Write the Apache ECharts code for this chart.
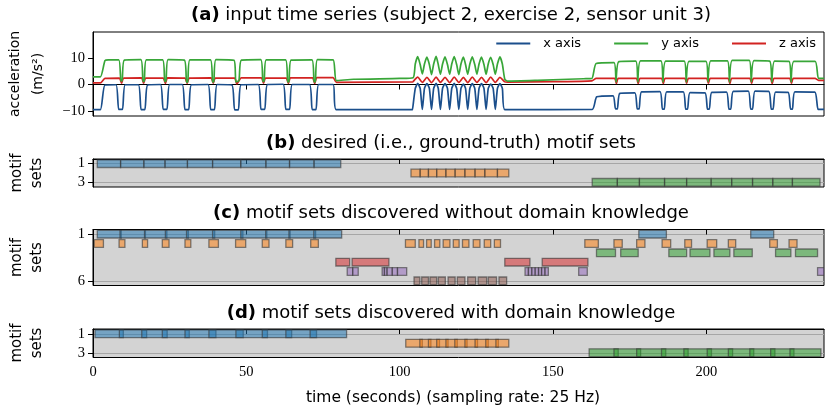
<!DOCTYPE html>
<html><head><meta charset="utf-8">
<script src="https://cdn.jsdelivr.net/npm/echarts@6/dist/echarts.min.js"></script>
<style>html,body{margin:0;padding:0;background:#fff}#c{width:830px;height:415px}</style>
</head><body><div id="c"></div><script>
const T_MAX = 238.4;
const timeTicks = [0, 50, 100, 150, 200];
const accTicks = [-10, 0, 10];
const seriesNames = ['x axis', 'y axis', 'z axis'];
const seriesColors = ['#1b4f8c', '#38a638', '#d22321'];
const motifColors = ['31,119,180', '255,127,14', '44,160,44', '214,39,40', '148,103,189', '140,86,75'];

// acceleration breakpoints: [time (s), value (m/s^2)]
const xAcc = [
[0,-9.6],[2.4,-9.6],[3.9,-0.2],
[7.5,-0.1],[8.4,-9.5],[9.6,-9.5],[10.5,-0.1],
[14.8,-0.1],[15.7,-9.6],[16.9,-9.6],[17.8,-0.2],
[22.0,0],[22.9,-9.5],[24.1,-9.5],[25.0,0],
[29.1,0],[30.0,-9.6],[31.2,-9.6],[32.1,-0.1],
[37.5,0],[38.4,-9.6],[39.6,-9.6],[40.5,0],
[45.3,-0.2],[46.2,-9.7],[47.4,-9.7],[48.3,-0.1],
[53.9,0],[54.8,-9.5],[56.0,-9.5],[56.9,0],
[62.0,0.1],[62.9,-9.5],[64.1,-9.5],[65.0,0],
[70.6,0],[71.5,-9.6],[72.7,-9.6],[73.6,0],
[78.3,0],[79.3,-9.6],[104.2,-9.6],
[104.4,-9.5],[105.1,-1.5],[105.9,0.4],[106.7,-1.5],
[107.4,-9.5],[108.1,-1.5],[108.9,0.3],[109.7,-1.5],
[110.4,-9.5],[111.1,-1.5],[111.9,0.4],[112.6,-1.5],
[113.3,-9.5],[114.0,-1.5],[114.8,0.3],[115.6,-1.5],
[116.3,-9.5],[117.0,-1.5],[117.8,0.4],[118.6,-1.5],
[119.3,-9.5],[120.0,-1.5],[120.8,0.2],[121.5,-1.5],
[122.2,-9.5],[122.9,-1.5],[123.7,0.3],[124.5,-1.5],
[125.2,-9.5],[125.9,-1.5],[126.7,0.3],[127.5,-1.5],
[128.2,-9.5],[128.9,-1.5],[129.7,0.2],[130.5,-1.5],
[131.2,-9.5],[131.9,-1.5],[132.7,0.3],[133.5,-1.5],
[134.3,-9.6],[162.8,-9.5],
[164.3,-4.7],[169.6,-4.3],[170.4,-9.3],[171.0,-9.3],[171.8,-3.4],
[176.7,-3.2],[177.5,-9.3],[178.1,-9.3],[178.9,-2.8],
[184.9,-2.7],[185.7,-9.4],[186.3,-9.4],[187.1,-2.8],
[192.5,-2.8],[193.3,-9.4],[193.9,-9.4],[194.7,-3.1],
[199.6,-3.2],[200.4,-9.4],[201.0,-9.4],[201.8,-3.0],
[206.6,-2.9],[207.4,-9.4],[208.0,-9.4],[208.8,-2.6],
[213.7,-2.5],[214.5,-9.4],[215.1,-9.4],[215.9,-2.5],
[220.4,-2.6],[221.2,-9.4],[221.8,-9.4],[222.6,-2.9],
[226.7,-3.0],[227.5,-9.4],[228.1,-9.4],[228.9,-2.8],
[235.4,-2.9],[236.5,-9.5],[238.4,-9.5]
];
const yAcc = [
[0,2.9],[2.4,2.9],[3.9,9.1],[5.0,9.4],
[8.4,9.4],[9.1,1.4],[9.5,1.4],[10.2,9.3],
[15.6,9.5],[16.3,1.2],[16.7,1.2],[17.4,9.4],
[22.7,9.4],[23.4,1.2],[23.8,1.2],[24.5,9.5],
[29.8,9.3],[30.5,0.9],[30.9,0.9],[31.6,9.4],
[38.3,9.4],[39.0,1.0],[39.4,1.0],[40.1,9.5],
[46.0,9.2],[46.6,1.0],[47.6,1.5],[48.4,9.3],
[54.7,9.5],[55.4,1.2],[55.8,1.2],[56.5,9.4],
[62.8,9.4],[63.5,1.0],[63.9,1.0],[64.6,9.3],
[71.4,9.4],[72.1,1.0],[72.5,1.0],[73.2,9.5],
[78.3,9.4],[79.4,1.5],[85.0,2.0],[100.0,2.3],
[104.4,2.6],[105.1,7.8],[105.9,10.6],[106.7,7.6],
[107.4,4.0],[108.1,7.8],[108.9,10.4],[109.7,7.6],
[110.4,3.8],[111.1,7.8],[111.9,10.7],[112.6,7.6],
[113.3,3.9],[114.0,7.8],[114.8,10.5],[115.6,7.6],
[116.3,3.9],[117.0,7.8],[117.8,10.6],[118.6,7.6],
[119.3,3.8],[120.0,7.8],[120.8,10.4],[121.5,7.6],
[122.2,3.9],[122.9,7.8],[123.7,10.5],[124.5,7.6],
[125.2,3.9],[125.9,7.8],[126.7,10.4],[127.5,7.6],
[128.2,3.9],[128.9,7.8],[129.7,10.3],[130.5,7.6],
[131.2,3.9],[131.9,7.8],[132.7,10.5],[133.5,7.8],
[134.3,2.0],[135.2,1.3],[145.0,1.6],[160.0,2.2],[162.7,2.3],[164.1,8.0],
[169.9,8.3],[170.6,1.0],[170.8,1.0],[171.5,8.7],
[177.0,8.9],[177.7,1.0],[177.9,1.0],[178.6,9.0],
[185.2,9.0],[185.9,1.0],[186.1,1.0],[186.8,8.9],
[192.8,8.9],[193.5,1.0],[193.7,1.0],[194.4,8.8],
[199.9,8.8],[200.6,1.1],[200.8,1.1],[201.5,9.0],
[206.9,9.0],[207.6,1.0],[207.8,1.0],[208.5,9.2],
[214.0,9.2],[214.7,1.1],[214.9,1.1],[215.6,9.1],
[220.7,8.9],[221.4,1.0],[221.6,1.0],[222.3,8.9],
[227.0,8.8],[227.7,1.0],[227.9,1.0],[228.6,8.8],
[235.5,8.8],[236.6,2.3],[238.4,2.3]
];
const zAcc = [
[0,0.6],[2.4,0.6],[3.9,2.3],
[8.6,2.4],[9.3,0.5],[10.0,2.4],
[15.8,2.5],[16.5,0.5],[17.2,2.4],
[22.9,2.4],[23.6,0.4],[24.3,2.5],
[30.0,2.4],[30.7,0.4],[31.4,2.4],
[38.5,2.5],[39.2,0.5],[39.9,2.4],
[46.2,2.4],[46.9,0.2],[47.6,1.4],[48.3,2.5],
[54.9,2.5],[55.6,0.5],[56.3,2.4],
[63.0,2.4],[63.7,0.4],[64.4,2.5],
[71.6,2.5],[72.3,0.4],[73.0,2.6],
[78.3,2.6],[79.4,0.8],[104.3,1.0],
[104.4,1.2],[105.9,2.8],[107.4,0.8],[108.9,2.7],[110.4,0.7],[111.9,2.8],
[113.3,0.8],[114.8,2.7],[116.3,0.7],[117.8,2.8],[119.3,0.8],[120.8,2.7],
[122.2,0.7],[123.7,2.8],[125.2,0.8],[126.7,2.7],[128.2,0.7],[129.7,2.8],
[131.2,0.8],[132.7,2.7],[134.3,1.0],
[135.2,0.9],[150.0,1.1],[162.7,1.4],[164.1,2.3],
[170.1,2.3],[170.7,0.4],[171.3,2.3],
[177.2,2.3],[177.8,0.4],[178.4,2.3],
[185.4,2.3],[186.0,0.4],[186.6,2.3],
[193.0,2.3],[193.6,0.5],[194.2,2.3],
[200.1,2.3],[200.7,0.5],[201.3,2.3],
[207.1,2.3],[207.7,0.4],[208.3,2.3],
[214.2,2.3],[214.8,0.5],[215.4,2.3],
[220.9,2.3],[221.5,0.4],[222.1,2.3],
[227.2,2.3],[227.8,0.5],[228.4,2.3],
[235.5,2.3],[236.6,1.6],[238.4,1.6]
];

// motif occurrences: [motif set, start (s), end (s)]
const desiredSets = [
[1,1.4,9.0],[1,9.0,16.6],[1,16.6,23.5],[1,23.5,30.8],[1,30.8,39.0],[1,39.0,48.2],[1,48.2,56.4],[1,56.4,64.1],[1,64.1,72.1],[1,72.1,80.8],
[2,103.7,106.7],[2,106.7,109.4],[2,109.4,112.1],[2,112.1,115.1],[2,115.1,118.1],[2,118.1,121.3],[2,121.3,124.6],[2,124.6,127.8],[2,127.8,131.9],[2,131.9,135.6],
[3,162.8,171.0],[3,171.0,178.2],[3,178.2,186.4],[3,186.4,193.6],[3,193.6,201.6],[3,201.6,208.3],[3,208.3,215.1],[3,215.1,221.7],[3,221.7,228.1],[3,228.1,237.1]
];
const setsWithoutDK = [
[1,1.4,9.2],[1,8.8,17.1],[1,16.8,24.1],[1,23.6,31.1],[1,30.5,39.7],[1,39.0,48.9],[1,48.2,56.7],[1,56.3,64.3],[1,63.9,72.6],[1,72.0,81.1],[1,178.0,187.0],[1,214.5,222.0],
[2,0.4,3.4],[2,8.5,10.4],[2,16.1,17.8],[2,22.6,24.8],[2,30.0,31.9],[2,37.8,40.9],[2,46.5,49.8],[2,55.2,57.4],[2,62.9,65.1],[2,71.0,73.5],
[2,101.9,105.1],[2,106.3,107.8],[2,108.8,110.3],[2,111.4,113.1],[2,114.2,116.4],[2,117.5,119.4],[2,120.5,122.6],[2,124.0,126.2],[2,127.6,129.7],[2,130.9,132.9],
[2,160.4,164.8],[2,169.9,172.6],[2,177.3,180.0],[2,185.6,188.4],[2,193.0,195.2],[2,200.3,203.4],[2,207.2,209.6],[2,220.7,223.2],[2,227.0,229.6],
[3,164.2,170.4],[3,172.1,177.8],[3,187.8,193.6],[3,194.7,201.2],[3,202.5,207.7],[3,209.0,215.0],[3,222.6,227.6],[3,229.1,236.3],
[4,79.2,83.7],[4,84.5,96.5],[4,134.3,142.5],[4,146.5,161.4],
[5,82.9,84.7],[5,84.7,86.5],[5,94.3,95.1],[5,95.0,95.9],[5,95.9,97.6],[5,97.6,99.3],[5,99.3,102.3],
[5,140.9,142.0],[5,142.0,143.1],[5,143.1,144.2],[5,144.2,145.3],[5,145.3,146.3],[5,146.3,147.4],[5,147.4,148.5],
[5,158.4,161.2],[5,236.3,238.4],
[6,104.7,106.6],[6,107.2,109.4],[6,109.9,112.1],[6,112.6,114.9],[6,115.8,118.1],[6,118.8,121.3],[6,122.2,124.8],[6,125.6,128.4],[6,128.9,131.6],[6,132.4,134.9]
];
const setsWithDK = [
[1,0.65,9.9],[1,8.6,17.5],[1,15.9,24.2],[1,22.6,31.4],[1,30.0,40.1],[1,37.8,49.0],[1,46.6,56.9],[1,55.2,64.8],[1,62.9,72.9],[1,70.8,82.7],
[2,102.0,107.4],[2,106.6,110.2],[2,109.4,113.0],[2,112.1,115.8],[2,115.1,118.8],[2,118.0,122.0],[2,121.3,125.4],[2,124.6,128.9],[2,128.1,132.2],[2,131.4,135.6],
[3,161.8,171.3],[3,169.9,178.6],[3,177.3,186.8],[3,185.4,194.1],[3,192.7,201.7],[3,200.3,208.6],[3,207.2,215.5],[3,214.2,222.4],[3,221.0,228.6],[3,227.3,237.4]
];

const SANS = '"DejaVu Sans", "Open Sans", sans-serif';
const SERIF = '"Liberation Serif", "DejaVu Serif", serif';

const chart = echarts.init(document.getElementById('c'), null, {renderer: 'canvas'});
const gridTops = [32, 159, 229.5, 329];
const gridHeights = [84, 28, 56, 28.5];
const rowsPerPanel = [0, 3, 6, 3];
const grids = gridTops.map((t, i) => ({
  left: 93, top: t, width: 731, height: gridHeights[i], show: true,
  backgroundColor: i === 0 ? 'transparent' : '#d3d3d3',
  borderColor: '#000', borderWidth: 1, containLabel: false
}));
const xAxes = grids.map((g, i) => ({
  type: 'value', gridIndex: i, min: 0, max: T_MAX,
  axisLine: {show: true, lineStyle: {color: '#000', width: 1}},
  axisTick: {show: true, customValues: timeTicks, length: 5, lineStyle: {color: '#000', width: 1}},
  axisLabel: {show: i === 3, customValues: timeTicks, fontFamily: SERIF, fontSize: 14.5, color: '#000', margin: 7},
  splitLine: {show: false}
}));
const yAxes = grids.map((g, i) => {
  if (i === 0) {
    return {
      type: 'value', gridIndex: 0, min: -12, max: 20,
      axisLine: {show: true, lineStyle: {color: '#000', width: 1}},
      axisTick: {show: true, customValues: accTicks, length: 5, lineStyle: {color: '#000'}},
      axisLabel: {customValues: accTicks, fontFamily: SERIF, fontSize: 14.5, color: '#000', margin: 8,
        formatter: v => v < 0 ? '\u2212' + (-v) : String(v)},
      splitLine: {show: false}
    };
  }
  const n = rowsPerPanel[i];
  return {
    type: 'value', gridIndex: i, min: 0, max: n, interval: 1, inverse: true,
    axisLine: {show: true, lineStyle: {color: '#000', width: 1}},
    axisTick: {show: true, customValues: [0.5, n - 0.5], length: 5, lineStyle: {color: '#000'}},
    axisLabel: {customValues: [0.5, n - 0.5], fontFamily: SERIF, fontSize: 14.5, color: '#000', margin: 8,
      formatter: v => String(Math.round(v + 0.5))},
    splitLine: {show: true, lineStyle: {color: '#a6a6a6', width: 1.2}}
  };
});

function renderBar(params, api) {
  const row = api.value(0), s = api.value(1), e = api.value(2);
  const p0 = api.coord([s, row - 0.5]);
  const p1 = api.coord([e, row - 0.5]);
  const h = api.size([0, 1])[1] * 0.82;
  const c = motifColors[row - 1];
  return {
    type: 'rect',
    shape: {x: p0[0], y: p0[1] - h / 2, width: p1[0] - p0[0], height: h},
    style: {fill: 'rgba(' + c + ',0.52)', stroke: 'rgba(55,55,55,0.6)', lineWidth: 1.3}
  };
}

const lineSeries = [xAcc, yAcc, zAcc].map((d, k) => ({
  name: seriesNames[k], type: 'line', xAxisIndex: 0, yAxisIndex: 0, data: d,
  showSymbol: false, symbol: 'none', smooth: 0.2, color: seriesColors[k],
  lineStyle: {width: 1.7, color: seriesColors[k]}, z: 3 - k, clip: true
}));
const barSeries = [desiredSets, setsWithoutDK, setsWithDK].map((d, k) => ({
  type: 'custom', xAxisIndex: k + 1, yAxisIndex: k + 1, data: d,
  encode: {x: [1, 2], y: 0}, renderItem: renderBar, clip: true, silent: true
}));

function vText(x, y, text, lh, fs) {
  return {type: 'text', x: x, y: y, rotation: Math.PI / 2,
    style: {text: text, fontFamily: SANS, fontSize: fs, fill: '#000', align: 'center', verticalAlign: 'middle', lineHeight: lh}};
}
function titleText(y, tag, rest) {
  return {type: 'text', x: 451, y: y,
    style: {text: '{b|' + tag + '}{n|' + rest + '}', align: 'center', verticalAlign: 'middle', fill: '#000',
      rich: {b: {fontFamily: SANS, fontSize: 18, fontWeight: 'bold', fill: '#000'},
             n: {fontFamily: SANS, fontSize: 18, fill: '#000'}}}};
}

chart.setOption({
  animation: false,
  backgroundColor: '#fff',
  grid: grids, xAxis: xAxes, yAxis: yAxes,
  legend: {data: seriesNames, top: 32, right: 9, icon: 'rect', itemWidth: 34, itemHeight: 2, itemGap: 33,
    textStyle: {fontFamily: SANS, fontSize: 13, color: '#000', padding: [0, 0, 0, 8]}},
  series: lineSeries.concat(barSeries),
  graphic: [
    titleText(15, '(a)', ' input time series (subject 2, exercise 2, sensor unit 3)'),
    titleText(143.5, '(b)', ' desired (i.e., ground-truth) motif sets'),
    titleText(213, '(c)', ' motif sets discovered without domain knowledge'),
    titleText(313, '(d)', ' motif sets discovered with domain knowledge'),
    vText(27, 74, 'acceleration\n(m/s\u00b2)', 23, 14),
    vText(27, 173, 'motif\nsets', 20, 15),
    vText(27, 257.5, 'motif\nsets', 20, 15),
    vText(27, 343, 'motif\nsets', 20, 15),
    {type: 'text', x: 453, y: 398, style: {text: 'time (seconds) (sampling rate: 25 Hz)', fontFamily: SANS, fontSize: 15.5, fill: '#000', align: 'center', verticalAlign: 'middle'}}
  ]
});
</script></body></html>
